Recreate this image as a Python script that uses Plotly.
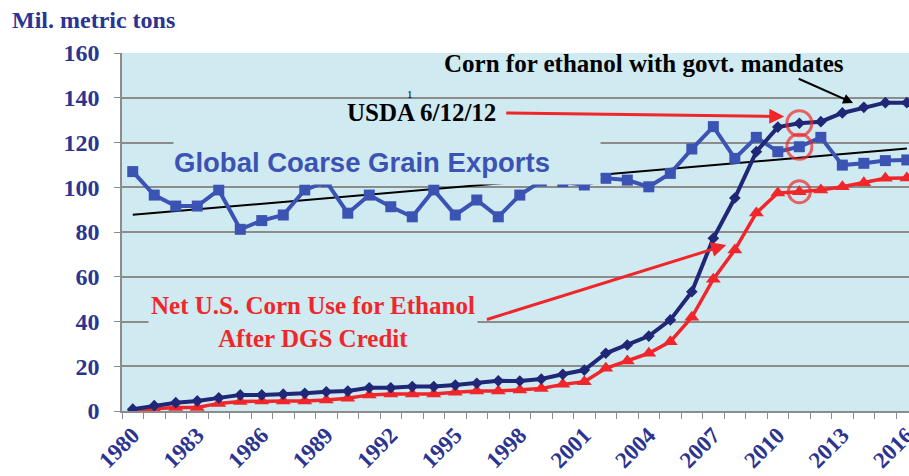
import plotly.graph_objects as go

# ---------------- data ----------------
years = list(range(1980, 2017))

coarse_grain_exports = [
    107.0, 96.5, 91.6, 91.6, 98.8, 81.2, 85.1, 87.6, 98.8, 102.5,
    88.4, 96.5, 91.3, 86.8, 98.8, 87.6, 94.3, 86.8, 96.5, 102.8,
    102.5, 101.0, 104.0, 103.2, 100.2, 106.2, 117.1, 127.1, 112.9, 122.3,
    115.9, 118.1, 122.3, 109.9, 110.7, 111.9, 112.2,
]

corn_ethanol_mandates = [
    0.8, 2.4, 3.7, 4.5, 5.9, 7.2, 7.2, 7.5, 7.9, 8.6,
    8.9, 10.4, 10.4, 10.9, 10.9, 11.6, 12.4, 13.5, 13.4, 14.3,
    16.4, 18.3, 25.8, 29.5, 33.5, 40.7, 53.3, 77.2, 95.2, 115.9,
    126.9, 128.6, 129.3, 133.2, 135.7, 137.8, 137.8,
]

net_corn_ethanol = [
    0.4, 0.9, 1.6, 1.6, 3.4, 4.2, 4.5, 4.5, 4.5, 4.9,
    5.7, 7.2, 7.6, 7.6, 7.6, 8.4, 8.9, 8.9, 9.4, 10.1,
    11.9, 13.1, 19.1, 22.3, 25.8, 31.0, 41.9, 58.9, 72.0, 88.5,
    97.4, 98.0, 98.8, 100.2, 102.0, 104.0, 104.1,
]

trend_years = [1980, 2016]
trend_values = [87.7, 117.3]

usda_year = 2011
tick_years = list(range(1980, 2017, 3))
tick_labels = [str(y) for y in tick_years]
y_ticks = list(range(0, 161, 20))

# ---------------- styles ----------------
PLOT_BG = "#d0eaf2"
GRID = "#8c8c8c"
NAVY_TXT = "#2b3490"
NAVY_LINE = "#1f2776"
BLUE_SQ = "#3b53b3"
RED = "#f0262a"
SERIF = "Liberation Serif, Times New Roman, serif"
SANS = "Liberation Sans, Arial, sans-serif"

fig = go.Figure()

# trend line
fig.add_trace(go.Scatter(x=trend_years, y=trend_values, mode="lines",
                         line=dict(color="black", width=2), hoverinfo="skip"))

# global coarse grain exports
fig.add_trace(go.Scatter(x=years, y=coarse_grain_exports, mode="lines+markers",
                         line=dict(color=BLUE_SQ, width=4),
                         marker=dict(symbol="square", size=11, color=BLUE_SQ)))

# net corn use for ethanol
fig.add_trace(go.Scatter(x=years, y=net_corn_ethanol, mode="lines+markers",
                         line=dict(color=RED, width=3.5),
                         marker=dict(symbol="triangle-up", size=13, color=RED)))

# corn for ethanol with mandates
fig.add_trace(go.Scatter(x=years, y=corn_ethanol_mandates, mode="lines+markers",
                         line=dict(color=NAVY_LINE, width=4),
                         marker=dict(symbol="diamond", size=9, color=NAVY_LINE)))

# USDA 6/12/12 highlight circles at 2011
idx = years.index(usda_year)
circle_vals = [corn_ethanol_mandates[idx], coarse_grain_exports[idx], net_corn_ethanol[idx]]
fig.add_trace(go.Scatter(x=[usda_year] * 3, y=circle_vals, mode="markers",
                         marker=dict(symbol="circle-open", size=[25, 25, 22], color=RED,
                                     line=dict(width=3, color=RED))))

annotations = [
    dict(text="Mil. metric tons", xref="paper", yref="paper", x=-0.142, y=1.092,
         xanchor="left", yanchor="middle", showarrow=False,
         font=dict(family=SERIF, size=24, color=NAVY_TXT, weight="bold")),
    dict(text="Corn for ethanol with govt. mandates", x=2003.78, y=155.4,
         xanchor="center", yanchor="middle", showarrow=False,
         font=dict(family=SERIF, size=25, color="black", weight="bold")),
    dict(text="", x=2013.5, y=137.7, ax=2010.9, ay=148.8, axref="x", ayref="y",
         showarrow=True, arrowhead=2, arrowsize=1, arrowwidth=2, arrowcolor="black"),
    dict(text="USDA 6/12/12", x=1993.45, y=133.2, xanchor="center", yanchor="middle",
         showarrow=False, font=dict(family=SERIF, size=25, color="black", weight="bold")),
    dict(text="1", x=1992.9, y=141.5, xanchor="center", yanchor="middle",
         showarrow=False, font=dict(family=SERIF, size=11, color="black")),
    dict(text="", x=2010.3, y=131.6, ax=1997.3, ay=133.2, axref="x", ayref="y",
         showarrow=True, arrowhead=2, arrowsize=1, arrowwidth=3, arrowcolor=RED),
    dict(text="Global Coarse Grain Exports", x=1981.85, y=111.2, xanchor="left",
         yanchor="middle", showarrow=False, width=426, height=43, align="left",
         bgcolor=PLOT_BG, borderpad=0,
         font=dict(family=SANS, size=27.5, color=BLUE_SQ, weight="bold")),
    dict(text="Net U.S. Corn Use for Ethanol<br>After DGS Credit", x=1988.4, y=39.8,
         xanchor="center", yanchor="middle", showarrow=False, align="center",
         bgcolor=PLOT_BG, borderpad=2,
         font=dict(family=SERIF, size=25, color=RED, weight="bold")),
    dict(text="", x=2007.6, y=74.2, ax=1996.4, ay=40.7, axref="x", ayref="y",
         showarrow=True, arrowhead=2, arrowsize=1, arrowwidth=3, arrowcolor=RED),
]

fig.update_layout(
    width=909, height=476,
    margin=dict(l=122, r=0, t=53, b=65),
    paper_bgcolor="white",
    plot_bgcolor=PLOT_BG,
    showlegend=False,
    annotations=annotations,
    xaxis=dict(
        automargin=False,
        range=[1979.5, 2016.1],
        tickmode="array", tickvals=tick_years, ticktext=tick_labels,
        tickangle=-45,
        ticks="", ticklabelstandoff=0, ticklabeloverflow="allow",
        tickfont=dict(family=SERIF, size=23, color=NAVY_TXT, weight="bold"),
        showgrid=False, zeroline=False,
        showline=True, linecolor=GRID, linewidth=1.5,
        minor=dict(tick0=1979.5, dtick=1, ticks="outside", ticklen=6,
                   tickcolor=GRID, tickwidth=1.2, showgrid=False),
    ),
    yaxis=dict(
        automargin=False,
        range=[0, 160], tickmode="array", tickvals=y_ticks,
        ticks="outside", ticklen=6, tickcolor=GRID,
        ticklabelstandoff=10,
        tickfont=dict(family=SERIF, size=24, color=NAVY_TXT, weight="bold"),
        showgrid=True, gridcolor=GRID, gridwidth=1.5,
        zeroline=False, showline=True, linecolor=GRID, linewidth=1.5,
    ),
)

fig.write_html(
    "out.html",
    config={"displayModeBar": False},
    post_script="document.body.style.margin='0';document.body.style.overflow='hidden';",
)
